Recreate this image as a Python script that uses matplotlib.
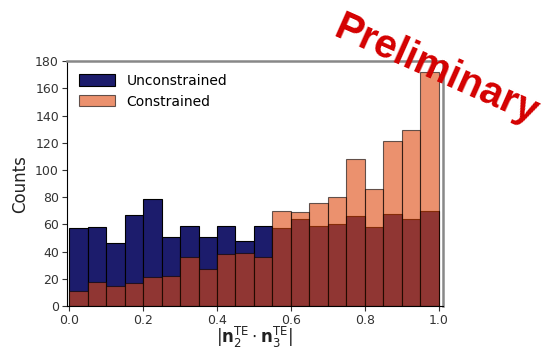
import numpy as np
from matplotlib import pyplot as plt

plt.rcParams['figure.dpi'] = 100

# 20 bins over |n2 . n3|, width 0.05
bin_edges = np.linspace(0, 1, 21)
unconstrained = [57, 58, 46, 67, 79, 51, 59, 51, 59, 48,
                 59, 57, 64, 59, 60, 66, 58, 68, 64, 70]
constrained = [11, 18, 15, 17, 21, 22, 36, 27, 38, 39,
               36, 70, 69, 76, 80, 108, 86, 121, 129, 172]

colours = ["#1c1c6c", "#de480d"]

fig = plt.figure(figsize=(5.51, 3.51))
ax = fig.add_axes([0.121, 0.128, 0.683, 0.698])

ax.bar(bin_edges[:-1], unconstrained, width=0.05, align='edge',
       color=colours[0], edgecolor='black', lw=0.8, label='Unconstrained')
ax.bar(bin_edges[:-1], constrained, width=0.05, align='edge',
       color=colours[1], alpha=0.6, edgecolor='black', lw=0.8,
       label='Constrained')

ax.set_xlim(-0.007, 1.012)
ax.set_ylim(0, 180)
ax.set_yticks(np.arange(0, 181, 20))
ax.tick_params(labelsize=9, colors='#333333', labelcolor='#333333', pad=2)
ax.set_ylabel('Counts', fontsize=12, color='#222222')
ax.set_xlabel(r'$|\mathbf{n}_2^{\mathrm{TE}} \cdot \mathbf{n}_3^{\mathrm{TE}}|$',
              fontsize=12, color='#222222', labelpad=-1)
for s in ['top', 'right']:
    ax.spines[s].set_color('#888888')
    ax.spines[s].set_linewidth(1.8)

ax.legend(loc='upper left', frameon=False, fontsize=10,
          handlelength=2.6, handleheight=0.9)

fig.text(0.792, 0.80, 'Preliminary', color='#d40000', fontsize=29,
         fontweight='bold', family=['Liberation Sans', 'DejaVu Sans'],
         rotation=-24, ha='center', va='center')

fig.savefig('out.png', dpi=100)
